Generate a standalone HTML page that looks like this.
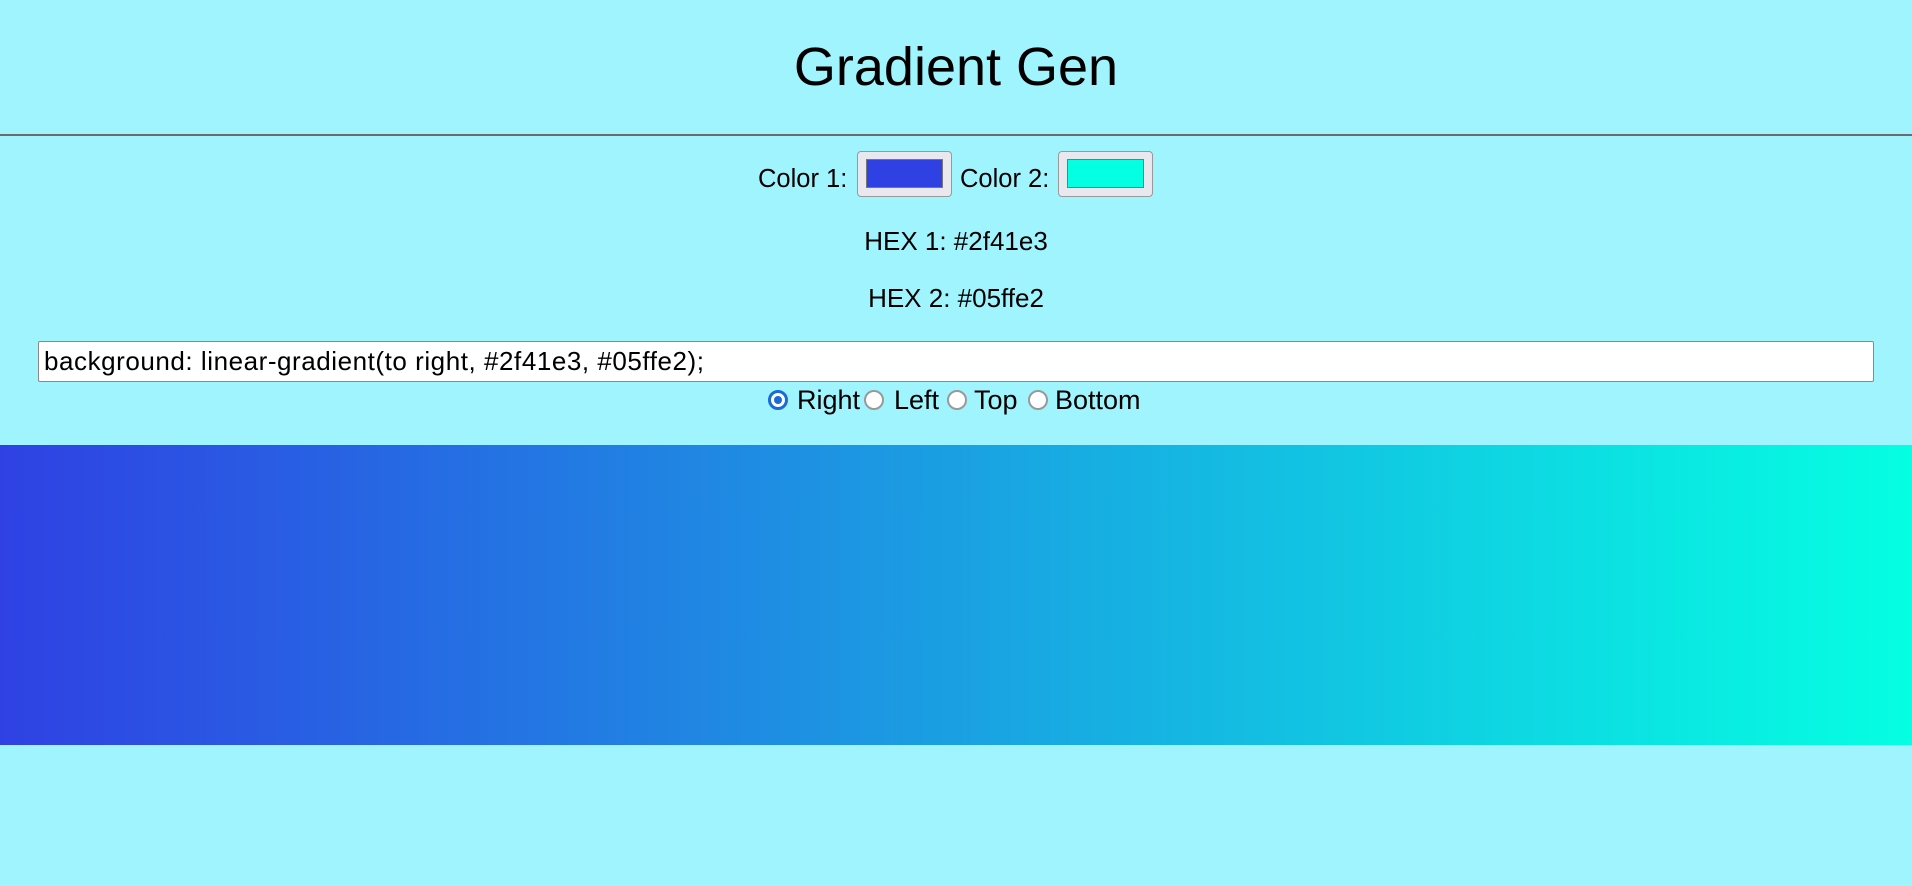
<!DOCTYPE html>
<html><head><meta charset="utf-8"><style>
html,body{margin:0;padding:0;width:1912px;height:886px;background:#a0f4fe;overflow:hidden;font-family:"Liberation Sans",sans-serif;color:#000}
.abs{position:absolute}
h1{position:absolute;left:0;width:1912px;top:37px;margin:0;text-align:center;font-weight:normal;font-size:54px;line-height:60px}
.hr{left:0;width:1912px;top:134px;height:2px;background:#6b6b6b}
.lbl{font-size:25.5px;line-height:30px}
.hex{font-size:26px;line-height:30px}
.rl{font-size:27px;line-height:30px}
.swatch{width:93px;height:44px;border:1px solid #999;border-radius:4px;background:#e8e8ee;box-sizing:content-box}
.swatch div{position:absolute;left:8px;top:7px;width:77px;height:29px;border:1px solid #777;box-sizing:border-box}
.center{left:0;width:1912px;text-align:center}
.input{left:38px;top:341px;width:1836px;height:41px;background:#fff;border:1px solid #8a8a8a;box-sizing:border-box;border-radius:2px;font-size:26px;line-height:39px;padding-left:5px;letter-spacing:0.55px}
.radio{width:20px;height:20px;border-radius:50%;border:2px solid #999;background:#fff;box-sizing:border-box}
.radio.on{border:3px solid #1a6ad8;}
.radio.on::after{content:"";position:absolute;left:3px;top:3px;width:8px;height:8px;border-radius:50%;background:#1a6ad8}
.band{left:0;top:445px;width:1912px;height:300px;background:linear-gradient(to right,#2f41e3,#05ffe2)}
</style></head><body>
<h1>Gradient Gen</h1>
<div class="abs hr"></div>
<div class="abs lbl" style="left:758px;top:164px">Color 1:</div>
<div class="abs swatch" style="left:857px;top:151px"><div style="background:#2f41e3"></div></div>
<div class="abs lbl" style="left:960px;top:164px">Color 2:</div>
<div class="abs swatch" style="left:1058px;top:151px"><div style="background:#05ffe2"></div></div>
<div class="abs center hex" style="top:226px">HEX 1: #2f41e3</div>
<div class="abs center hex" style="top:283px">HEX 2: #05ffe2</div>
<div class="abs input">background: linear-gradient(to right, #2f41e3, #05ffe2);</div>
<div class="abs radio on" style="left:768px;top:390px"></div>
<div class="abs rl" style="left:797px;top:385px">Right</div>
<div class="abs radio" style="left:864px;top:390px"></div>
<div class="abs rl" style="left:894px;top:385px">Left</div>
<div class="abs radio" style="left:947px;top:390px"></div>
<div class="abs rl" style="left:974px;top:385px">Top</div>
<div class="abs radio" style="left:1028px;top:390px"></div>
<div class="abs rl" style="left:1055px;top:385px">Bottom</div>
<div class="abs band"></div>
</body></html>
